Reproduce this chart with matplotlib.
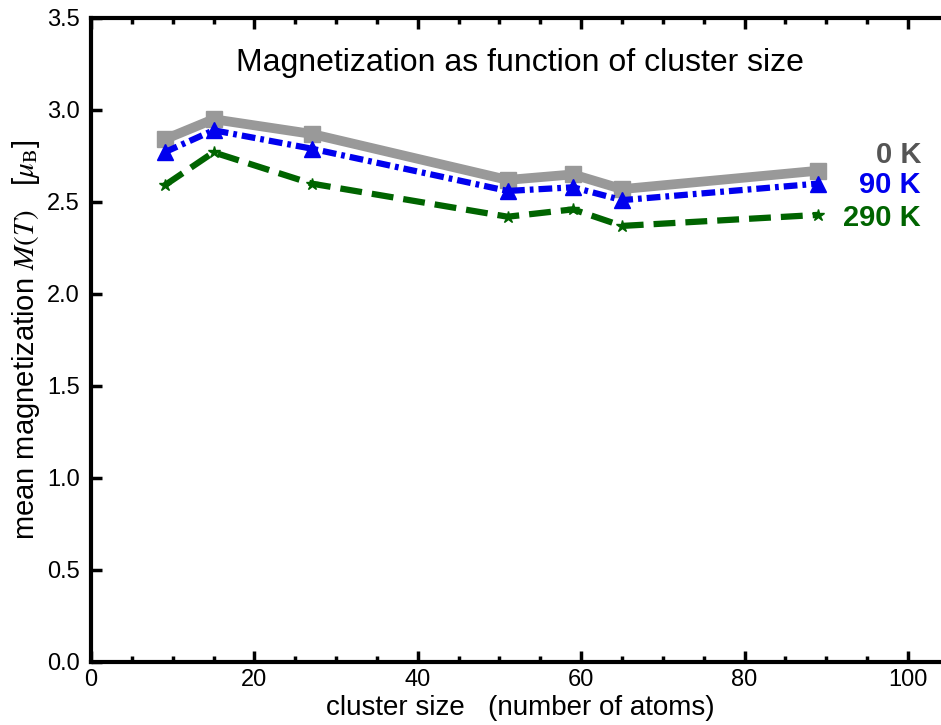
import matplotlib
matplotlib.use("Agg")
import matplotlib.pyplot as plt
from matplotlib.ticker import MultipleLocator, FormatStrFormatter

plt.rcParams['font.family'] = ['Liberation Sans', 'DejaVu Sans']
plt.rcParams['mathtext.fontset'] = 'stix'

cluster_size = [9, 15, 27, 51, 59, 65, 89]
m_0K = [2.84, 2.95, 2.87, 2.62, 2.65, 2.57, 2.67]
m_90K = [2.77, 2.89, 2.79, 2.56, 2.58, 2.51, 2.60]
m_290K = [2.59, 2.77, 2.60, 2.42, 2.46, 2.37, 2.43]
labels = ["0 K", "90 K", "290 K"]
label_colors = ['#555555', '#0000ee', '#006400']

W, H = 941, 725
fig = plt.figure(figsize=(W/100, H/100), dpi=100)
left, right, top, bottom = 91, 975, 18, 662
ax = fig.add_axes([left/W, 1-bottom/H, (right-left)/W, (bottom-top)/H])

xmax = (right-left)/((908-91)/100.0)
ax.set_xlim(0, xmax)
ax.set_ylim(0, 3.5)

ax.plot(cluster_size, m_0K, color='#999999', lw=7, ls='-', marker='s', ms=11, zorder=2)
ax.plot(cluster_size, m_90K, color='#0000ee', lw=4.5, ls=(0, (2.2, 0.8, 0.6, 0.8)), marker='^', ms=12, zorder=3)
ax.plot(cluster_size, m_290K, color='#006400', lw=4.5, ls=(0, (3.5, 1.6)), marker='*', ms=9, zorder=3)

ypos = [155, 185, 218]
for lab, col, yp in zip(labels, label_colors, ypos):
    fig.text(921/W, 1-yp/H, lab, fontsize=21, fontweight='bold', color=col, ha='right', va='center')

fig.text(520/W, 1-63/H, "Magnetization as function of cluster size",
         fontsize=23, ha='center', va='center')

ax.set_xlabel("cluster size   (number of atoms)", fontsize=20)
ax.xaxis.set_label_coords((520-left)/(right-left), (bottom-695)/(bottom-top))
ax.set_ylabel(r"mean magnetization $M(T)$   [$\mu_{\mathrm{B}}$]", fontsize=21, labelpad=4)

ax.xaxis.set_major_locator(MultipleLocator(20))
ax.xaxis.set_minor_locator(MultipleLocator(5))
ax.yaxis.set_major_locator(MultipleLocator(0.5))
ax.yaxis.set_major_formatter(FormatStrFormatter('%.1f'))
ax.tick_params(axis='both', which='both', direction='in', top=True, right=True, width=2.5, labelsize=17)
ax.tick_params(which='major', length=8)
ax.tick_params(which='minor', length=4)
ax.tick_params(axis='y', pad=8)
ax.tick_params(axis='x', pad=5)
for s in ax.spines.values():
    s.set_linewidth(3)

fig.savefig("out.png", dpi=100)
